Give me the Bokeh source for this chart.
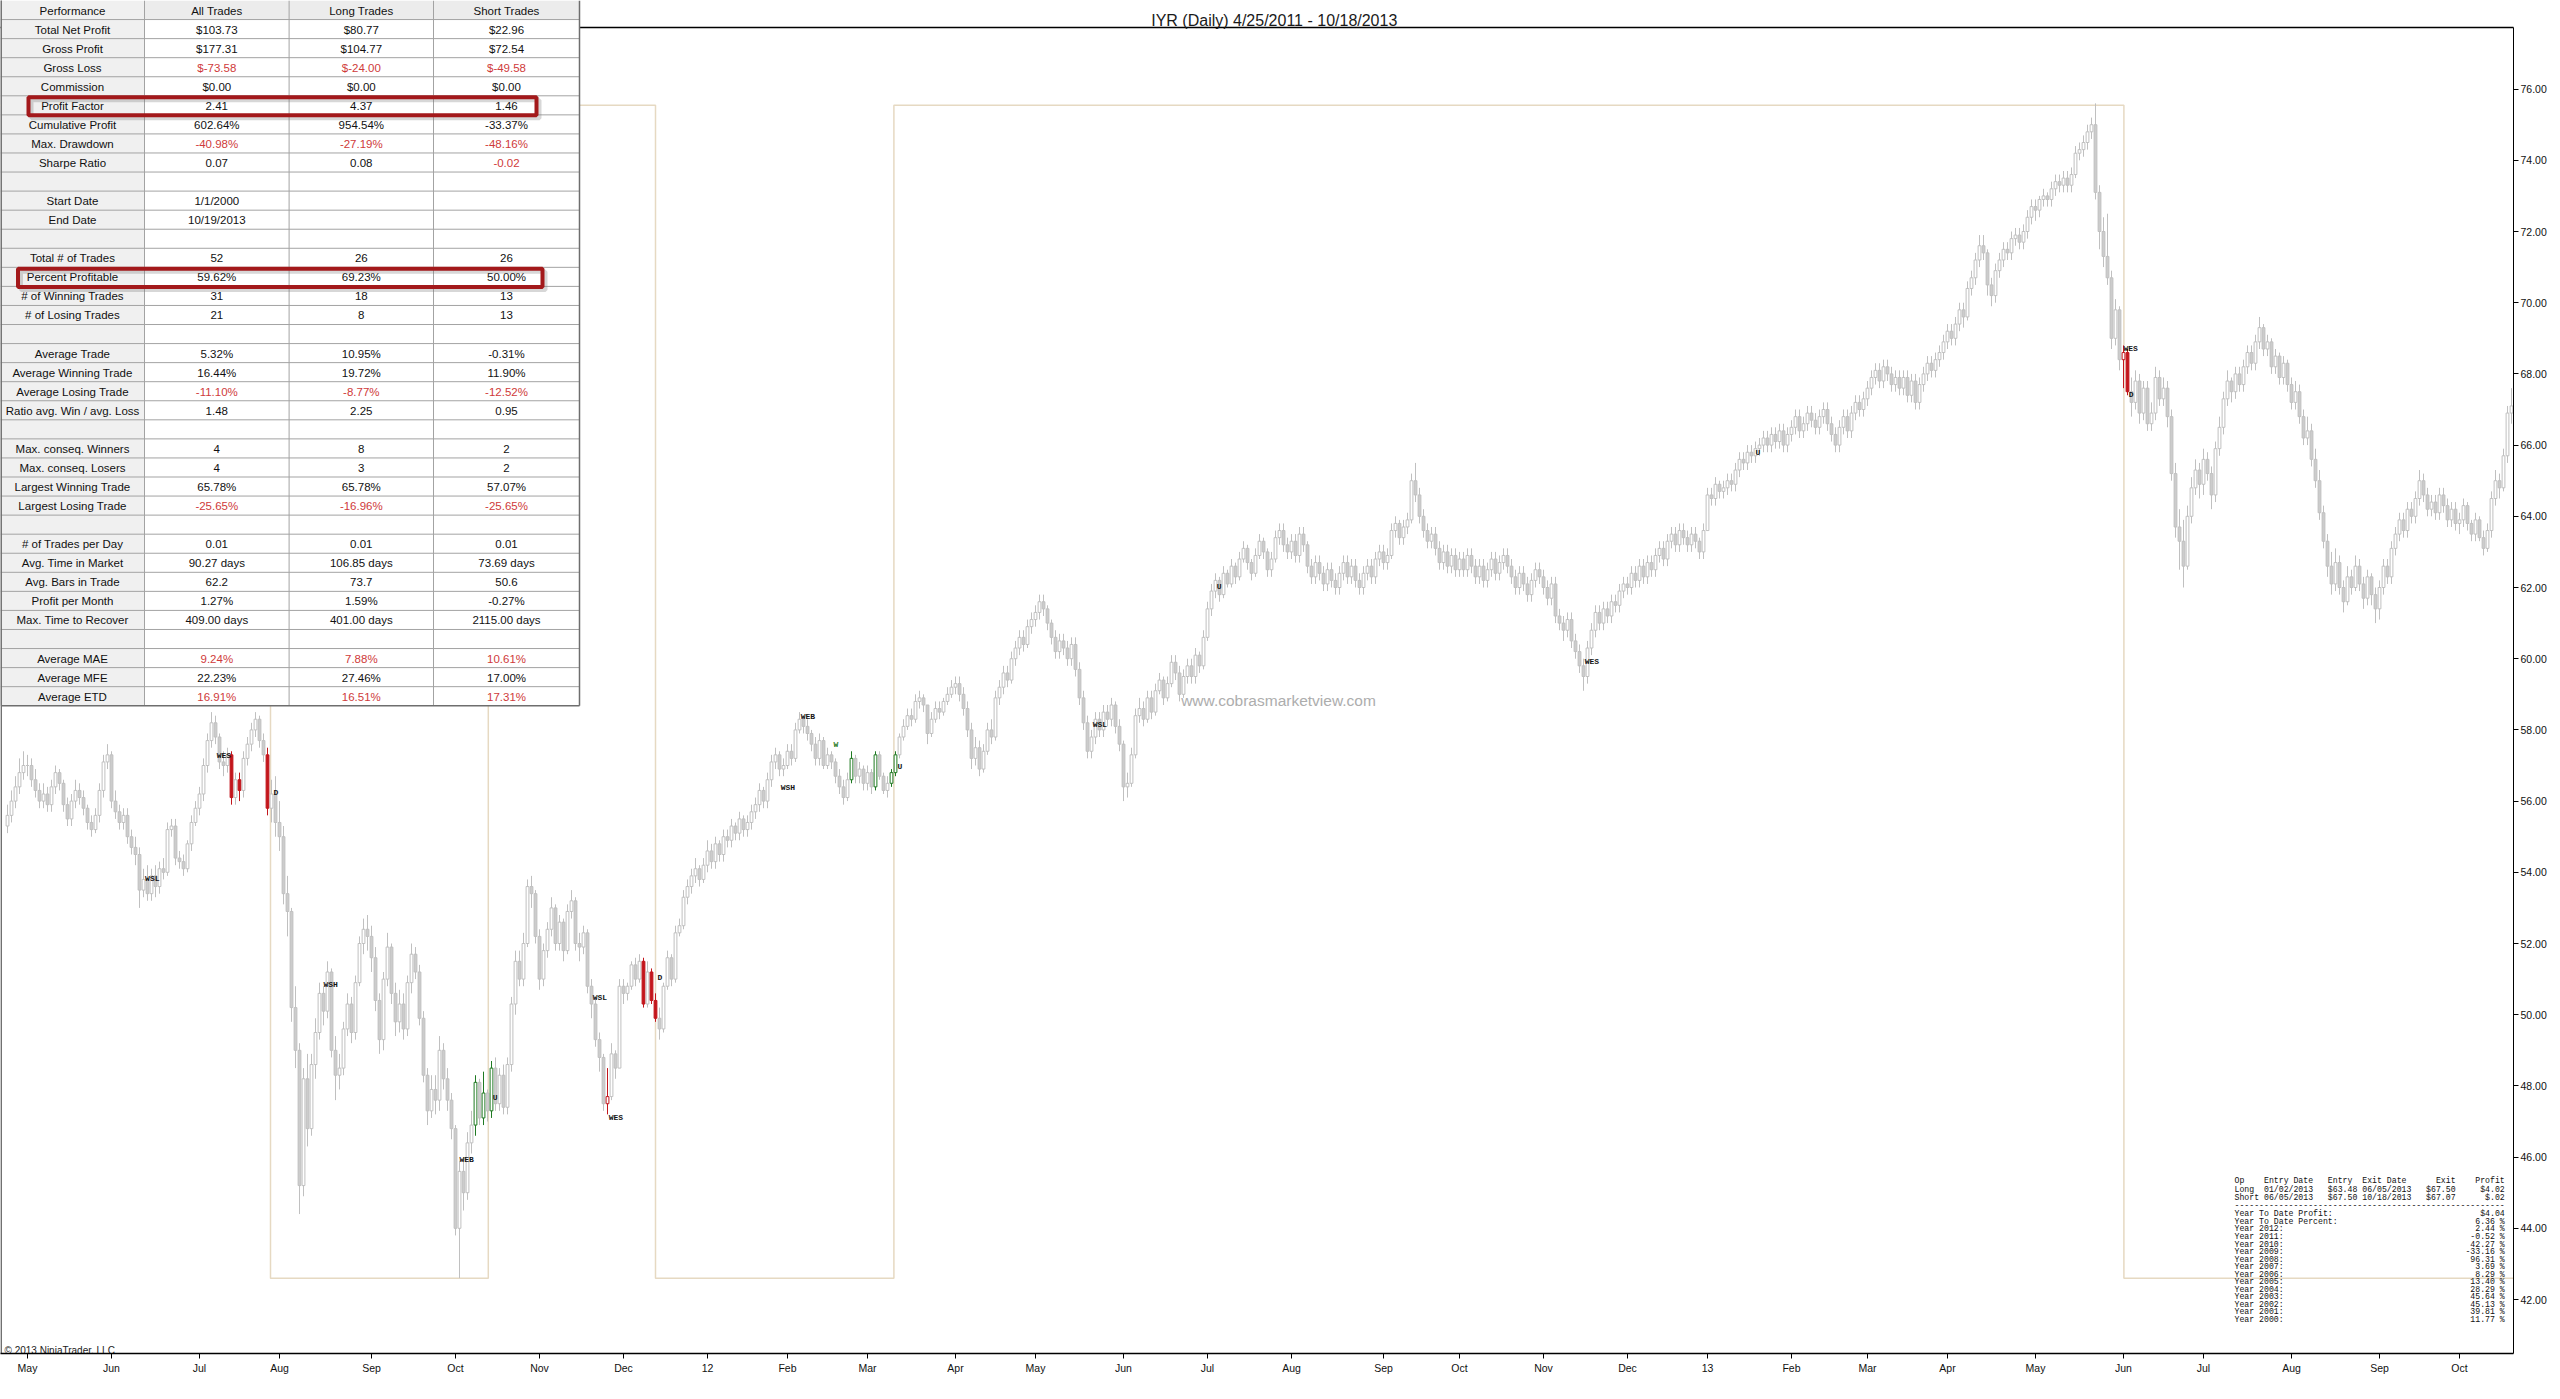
import pandas as pd
from bokeh.plotting import figure
from bokeh.models import ColumnDataSource, Range1d, FixedTicker, NumeralTickFormatter
from bokeh.core.properties import value
from bokeh.embed import file_html
from bokeh.resources import INLINE

# ---------------------------------------------------------------- data
TITLE = "IYR (Daily)  4/25/2011 - 10/18/2013"
first_open = 55.3

close_2011 = [
    55.6, 56.0, 56.4, 56.8, 57.0,
    57.0, 56.6, 56.3, 56.0, 56.2, 55.9, 56.4, 56.8, 56.5, 55.9, 55.5, 56.0, 56.3, 56.1, 55.8, 55.4, 55.2, 55.6, 56.3, 57.1, 57.3,
    56.0, 55.7, 55.4, 55.6, 55.0, 54.7, 54.5, 53.5, 53.8, 53.4, 53.9, 53.6, 54.1, 54.0, 55.2, 55.3, 54.4, 54.3, 54.1, 54.8, 55.4, 55.8,
    56.2, 57.0, 57.7, 58.2, 57.8, 57.1, 57.0, 57.3, 56.1, 56.6, 56.3, 57.2, 57.6, 58.0, 58.3, 57.7, 57.3, 55.8, 56.2, 55.4,
    55.0, 53.4, 52.9, 50.2, 49.0, 45.2, 48.2, 46.8, 48.6, 49.5, 50.6, 50.1, 51.2, 49.0, 48.3, 48.5, 49.6, 50.3, 49.5, 50.9, 52.0, 52.4, 52.2,
    51.6, 50.4, 49.3, 51.0, 51.9, 50.6, 49.8, 50.3, 49.6, 50.9, 51.7, 51.2, 49.9, 48.3, 47.3, 47.9, 47.6, 49.0, 48.2, 47.6, 46.8,
    44.0, 45.6, 45.0, 46.4, 46.9, 48.1, 47.1, 47.8, 47.3, 48.5, 47.5, 48.3, 47.4, 48.6, 50.3, 51.5, 51.0, 52.0, 53.6, 53.4, 52.2,
    51.0, 51.8, 52.4, 53.0, 52.0, 52.6, 51.8, 52.9, 53.2, 52.0, 51.9, 52.3, 50.8, 50.3, 49.3, 48.8, 47.5, 47.7, 48.9, 48.5, 50.8,
    50.6, 50.8, 51.4, 51.0, 51.5, 50.3, 51.2, 50.4, 49.9, 49.6, 50.8, 51.6, 51.0, 52.3, 52.5, 53.3, 53.6, 53.9, 54.1, 53.8, 54.2,
]
high_2011 = [
    55.9, 56.3, 56.7, 57.2, 57.4,
    57.3, 57.2, 56.9, 56.5, 56.5, 56.4, 56.6, 57.0, 56.9, 56.6, 56.1, 56.2, 56.6, 56.5, 56.3, 55.9, 55.6, 55.8, 56.5, 57.3, 57.6,
    57.4, 56.3, 55.9, 55.8, 55.8, 55.2, 55.0, 54.7, 54.1, 54.2, 54.1, 54.2, 54.3, 54.4, 55.4, 55.5, 55.5, 54.6, 54.5, 54.9, 55.6, 56.0,
    56.4, 57.2, 57.9, 58.5, 58.4, 57.9, 57.4, 57.5, 57.4, 56.8, 56.8, 57.4, 57.8, 58.2, 58.5, 58.4, 57.9, 57.5, 56.6, 56.7,
    56.0, 55.3, 53.9, 53.0, 50.8, 49.2, 48.5, 48.9, 48.9, 49.9, 50.9, 50.8, 51.5, 51.3, 49.4, 48.9, 49.8, 50.6, 50.5, 51.1, 52.2, 52.7, 52.8,
    52.5, 51.9, 50.6, 51.2, 52.3, 52.0, 50.9, 50.7, 50.6, 51.1, 52.0, 51.9, 51.4, 50.1, 48.5, 48.3, 48.3, 49.4, 49.2, 48.5, 47.8,
    46.9, 45.9, 46.0, 46.7, 47.3, 48.3, 48.2, 48.4, 47.9, 48.7, 48.8, 48.5, 48.6, 48.8, 50.5, 51.8, 51.8, 52.3, 53.8, 53.9, 53.5,
    52.4, 52.0, 52.6, 53.3, 53.1, 52.8, 52.7, 53.1, 53.5, 53.3, 52.3, 52.5, 52.4, 51.0, 50.5, 49.5, 48.9, 48.5, 49.2, 49.0, 51.0,
    51.0, 50.9, 51.5, 51.6, 51.7, 51.6, 51.5, 51.3, 50.6, 50.2, 50.9, 51.8, 51.7, 52.5, 52.7, 53.5, 53.8, 54.1, 54.4, 54.2, 54.4,
]
low_2011 = [
    55.1, 55.4, 55.8, 56.2, 56.6,
    56.7, 56.4, 56.1, 55.8, 55.8, 55.7, 55.7, 56.2, 56.3, 55.7, 55.3, 55.3, 55.8, 55.9, 55.6, 55.2, 55.0, 55.1, 55.4, 56.1, 56.9,
    55.8, 55.5, 55.2, 55.2, 54.8, 54.5, 54.2, 53.0, 53.3, 53.2, 53.2, 53.3, 53.4, 53.8, 53.9, 55.0, 54.2, 54.1, 53.9, 54.0, 54.6, 55.3,
    55.6, 56.0, 56.8, 57.5, 57.6, 56.9, 56.7, 56.8, 55.9, 55.9, 56.0, 56.1, 57.0, 57.4, 57.8, 57.5, 57.1, 55.6, 55.4, 55.0,
    54.6, 53.1, 52.2, 49.8, 48.5, 44.4, 44.9, 46.3, 46.6, 48.2, 49.3, 49.7, 49.9, 48.8, 47.6, 47.9, 48.3, 49.4, 49.2, 49.3, 50.8, 51.7, 51.8,
    51.2, 50.1, 48.9, 49.0, 50.8, 50.3, 49.4, 49.5, 49.3, 49.4, 50.6, 51.0, 49.7, 48.1, 46.9, 47.1, 47.2, 47.3, 47.9, 47.3, 46.5,
    43.8, 42.6, 44.5, 44.8, 46.1, 46.6, 46.9, 46.9, 47.0, 47.1, 47.3, 47.3, 47.2, 47.2, 48.4, 50.0, 50.8, 50.8, 51.9, 53.0, 52.0,
    50.7, 50.8, 51.6, 52.2, 51.8, 51.8, 51.5, 51.7, 52.7, 51.8, 51.5, 51.7, 50.6, 49.9, 49.1, 48.4, 47.3, 47.2, 47.6, 48.2, 49.8,
    50.3, 50.4, 50.7, 50.8, 50.9, 50.2, 50.2, 50.3, 49.8, 49.3, 49.5, 50.7, 50.8, 50.9, 52.2, 52.4, 53.1, 53.4, 53.7, 53.6, 53.7,
]

close_2012 = [
    54.6, 54.3, 54.8, 54.5, 55.0, 54.9, 55.3, 55.1, 55.5, 55.2, 55.4, 55.7, 55.9, 56.3, 56.0, 56.6, 57.1, 57.3, 56.9, 57.0,
    57.4, 57.2, 58.0, 58.3, 58.1, 57.9, 57.6, 57.2, 57.7, 57.0, 57.3, 57.1, 56.7, 56.4, 56.1, 56.6, 57.2, 56.7, 56.9, 56.5,
    56.8, 56.4, 57.3, 56.7, 56.3, 56.5, 56.8, 57.3, 57.8, 58.1, 58.4, 58.3, 58.8, 58.9, 58.7, 57.9, 58.3, 58.6, 58.5, 58.8, 59.0, 59.2,
    59.3, 59.0, 58.6, 58.0, 57.2, 57.5, 56.9, 57.4, 58.0, 57.8, 58.9, 59.2, 59.6, 59.4, 60.0, 60.3, 60.6, 60.4, 60.9, 61.1,
    61.3, 61.6, 61.4, 61.0, 60.6, 60.2, 60.5, 60.3, 60.0, 60.4, 59.7, 58.9, 58.2, 57.4, 57.8, 58.3, 58.0, 58.5, 58.3, 58.7, 58.1, 57.6,
    56.4, 56.5, 57.3, 58.4, 58.6, 58.3, 58.9, 58.5, 59.1, 59.4, 58.9, 59.3, 59.9, 59.6, 59.0, 59.5, 59.8, 59.5, 60.1, 59.8, 60.6,
    61.4, 61.9, 62.2, 61.8, 62.4, 62.1, 62.6, 62.3, 62.8, 63.1, 62.7, 62.4, 62.9, 63.3, 63.0, 62.5, 62.8, 63.4, 63.6, 63.2, 63.0,
    63.3, 62.9, 63.5, 63.2, 62.6, 62.3, 62.7, 62.4, 62.1, 62.5, 62.2, 62.0, 62.4, 62.7, 62.3, 62.6, 62.2, 62.0, 62.4, 62.6, 62.3, 62.8, 63.0,
    62.7, 62.9, 63.6, 63.8, 63.4, 63.7, 63.9, 65.0, 64.6, 64.0, 63.6, 63.3, 63.5, 63.1, 62.7, 63.0, 62.6, 62.9, 62.5,
    62.8, 62.5, 62.9, 62.6, 62.3, 62.6, 62.2, 62.5, 62.8, 62.4, 62.7, 62.9, 62.6, 62.3, 62.0, 62.4, 62.1, 61.8, 62.2, 62.5, 62.3,
    62.0, 61.7, 62.1, 61.2, 61.0, 60.8, 61.1, 60.5, 60.2, 59.8, 59.5, 60.3, 60.8, 61.3, 61.0, 61.4, 61.2, 61.6, 61.5, 61.9, 62.1,
    62.0, 62.4, 62.2, 62.6, 62.3, 62.7, 62.5, 62.9, 63.1, 62.8, 63.3, 63.5, 63.2, 63.6, 63.4, 63.2, 63.5, 63.3, 63.0, 63.6,
]
high_2012 = [
    54.9, 54.8, 55.0, 54.9, 55.2, 55.2, 55.5, 55.4, 55.7, 55.6, 55.6, 55.9, 56.1, 56.5, 56.4, 56.8, 57.3, 57.5, 57.4, 57.2,
    57.6, 57.6, 58.2, 58.5, 58.4, 58.3, 58.0, 57.8, 57.9, 57.8, 57.5, 57.4, 57.2, 56.9, 56.6, 56.8, 57.4, 57.3, 57.1, 57.0,
    57.0, 56.9, 57.4, 57.4, 56.8, 56.7, 56.9, 57.4, 57.9, 58.3, 58.6, 58.6, 59.0, 59.1, 59.0, 58.7, 58.5, 58.8, 58.8, 58.9, 59.2, 59.4,
    59.5, 59.5, 59.2, 58.8, 58.2, 57.8, 57.7, 57.6, 58.2, 58.3, 59.1, 59.4, 59.8, 59.8, 60.2, 60.5, 60.8, 60.8, 61.1, 61.3,
    61.5, 61.8, 61.8, 61.5, 61.1, 60.8, 60.7, 60.7, 60.5, 60.6, 60.6, 59.9, 59.1, 58.4, 58.0, 58.5, 58.5, 58.7, 58.7, 58.9, 58.8, 58.3,
    57.7, 56.8, 57.5, 58.6, 58.9, 58.8, 59.1, 59.1, 59.3, 59.6, 59.5, 59.5, 60.1, 60.1, 59.8, 59.7, 60.0, 60.0, 60.3, 60.2, 60.8,
    61.6, 62.1, 62.4, 62.3, 62.6, 62.5, 62.8, 62.7, 63.0, 63.3, 63.2, 62.8, 63.1, 63.5, 63.4, 63.1, 63.0, 63.6, 63.8, 63.8, 63.4,
    63.5, 63.5, 63.7, 63.7, 63.3, 62.8, 62.9, 62.9, 62.6, 62.7, 62.7, 62.4, 62.6, 62.9, 62.9, 62.8, 62.8, 62.4, 62.6, 62.8, 62.8, 63.0, 63.2,
    63.2, 63.1, 63.8, 64.0, 63.9, 63.9, 64.1, 65.2, 65.5, 64.8, 64.2, 63.8, 63.7, 63.7, 63.3, 63.2, 63.2, 63.1, 63.1,
    63.0, 63.0, 63.1, 63.1, 62.8, 62.8, 62.8, 62.7, 63.0, 63.0, 62.9, 63.1, 63.1, 62.8, 62.5, 62.6, 62.6, 62.3, 62.4, 62.7, 62.7,
    62.5, 62.2, 62.3, 62.3, 61.4, 61.2, 61.3, 61.3, 60.7, 60.4, 60.0, 60.5, 61.0, 61.5, 61.5, 61.6, 61.6, 61.8, 61.8, 62.1, 62.3,
    62.3, 62.6, 62.6, 62.8, 62.8, 62.9, 62.9, 63.1, 63.3, 63.3, 63.5, 63.7, 63.7, 63.8, 63.8, 63.6, 63.7, 63.7, 63.4, 63.8,
]
low_2012 = [
    54.0, 54.1, 54.1, 54.3, 54.3, 54.7, 54.7, 54.9, 54.9, 55.0, 55.0, 55.2, 55.5, 55.7, 55.8, 55.8, 56.4, 56.9, 56.7, 56.7,
    56.9, 57.0, 57.1, 57.9, 57.9, 57.7, 57.4, 57.0, 57.0, 56.9, 56.9, 56.9, 56.5, 56.2, 55.9, 56.0, 56.5, 56.5, 56.5, 56.3,
    56.3, 56.2, 56.3, 56.6, 56.2, 56.1, 56.4, 56.7, 57.2, 57.7, 58.0, 58.1, 58.2, 58.6, 58.5, 57.6, 57.8, 58.2, 58.3, 58.4, 58.7, 58.9,
    59.0, 58.8, 58.4, 57.8, 56.9, 57.0, 56.7, 56.8, 57.3, 57.6, 57.7, 58.7, 59.0, 59.2, 59.3, 59.8, 60.1, 60.2, 60.3, 60.7,
    60.9, 61.1, 61.2, 60.8, 60.4, 60.0, 60.0, 60.1, 59.8, 59.8, 59.5, 58.7, 58.0, 57.2, 57.2, 57.6, 57.8, 57.8, 58.1, 58.1, 57.9, 57.4,
    56.0, 56.1, 56.4, 57.2, 58.2, 58.1, 58.2, 58.3, 58.4, 59.0, 58.7, 58.8, 59.2, 59.4, 58.8, 58.9, 59.3, 59.3, 59.3, 59.6, 59.7,
    60.5, 61.2, 61.7, 61.6, 61.7, 62.0, 62.0, 62.1, 62.2, 62.7, 62.5, 62.2, 62.3, 62.8, 62.8, 62.3, 62.3, 62.7, 63.2, 63.0, 62.8,
    62.8, 62.7, 62.7, 63.0, 62.4, 62.1, 62.1, 62.2, 61.9, 61.9, 62.0, 61.8, 61.8, 62.2, 62.1, 62.1, 62.0, 61.8, 61.8, 62.2, 62.1, 62.1, 62.6,
    62.5, 62.5, 62.8, 63.4, 63.2, 63.2, 63.5, 63.8, 64.4, 63.8, 63.4, 63.1, 63.1, 62.9, 62.5, 62.5, 62.4, 62.4, 62.3,
    62.3, 62.3, 62.3, 62.4, 62.1, 62.1, 62.0, 62.0, 62.3, 62.2, 62.2, 62.5, 62.4, 62.1, 61.8, 61.8, 61.9, 61.6, 61.6, 62.0, 62.1,
    61.8, 61.5, 61.5, 61.0, 60.8, 60.5, 60.6, 60.3, 60.0, 59.6, 59.1, 59.3, 60.1, 60.6, 60.8, 60.8, 61.0, 61.0, 61.3, 61.3, 61.7,
    61.8, 61.8, 62.0, 62.0, 62.1, 62.1, 62.3, 62.3, 62.7, 62.6, 62.6, 63.1, 63.0, 63.0, 63.2, 63.0, 63.0, 63.1, 62.8, 62.8,
]

close_2013 = [
    64.6, 64.5, 64.9, 64.7, 64.8, 65.0, 64.9, 65.3, 65.6, 65.5, 65.8, 65.7, 65.9, 66.0, 66.2, 66.0, 66.3, 66.1, 66.4, 66.0, 66.3,
    66.5, 66.8, 66.4, 66.6, 66.9, 66.7, 66.5, 66.8, 67.0, 66.6, 66.3, 66.0, 66.5, 66.8, 66.4, 66.9, 67.2, 67.0, 67.3,
    67.6, 67.9, 68.1, 67.8, 68.2, 68.0, 67.7, 67.9, 67.6, 67.9, 67.4, 67.8, 67.2, 67.7, 68.0, 68.3, 68.1, 68.4, 68.6, 68.9,
    69.2, 69.0, 69.4, 69.8, 69.6, 70.4, 70.7, 71.2, 71.6, 71.4, 70.5, 70.2, 70.9, 71.2, 71.5, 71.4, 71.8, 71.9, 71.7, 72.0, 72.4, 72.7,
    72.6, 72.9, 73.0, 72.9, 73.2, 73.4, 73.3, 73.5, 73.3, 73.6, 74.2, 74.3, 74.5, 74.8, 75.0, 73.1, 72.0, 71.3, 70.7, 69.0, 69.8, 68.4,
    68.6, 67.5, 67.2, 67.8, 66.9, 67.6, 66.6, 66.9, 67.9, 67.3, 67.6, 66.8, 65.2, 63.7, 63.3, 62.6, 64.0, 64.8, 65.3, 64.9,
    65.6, 65.2, 64.6, 65.9, 66.5, 67.3, 67.8, 67.5, 68.0, 67.7, 68.2, 68.6, 68.3, 68.9, 69.3, 68.7, 68.9, 68.2, 68.5, 67.9, 68.3, 67.7,
    67.2, 67.5, 66.8, 66.2, 66.4, 65.6, 65.0, 64.1, 63.3, 62.6, 62.1, 62.7, 62.0, 61.6, 62.3, 62.0, 62.6, 62.1, 61.7, 62.3, 61.8, 61.4,
    62.0, 62.6, 62.3, 63.1, 63.5, 63.9, 63.6, 64.2, 64.0, 64.5, 65.0, 64.6, 64.2, 64.4, 64.1, 64.6, 64.3, 63.9, 64.2, 63.8,
    63.9, 64.3, 63.8, 63.5, 63.9, 63.4, 63.1, 63.6, 64.5, 65.0, 64.8, 65.7, 66.9, 67.1,
]
high_2013 = [
    64.8, 64.8, 65.1, 65.0, 65.0, 65.2, 65.2, 65.5, 65.8, 65.8, 66.0, 66.0, 66.1, 66.2, 66.4, 66.4, 66.5, 66.5, 66.6, 66.6, 66.5,
    66.7, 67.0, 67.0, 66.8, 67.1, 67.1, 66.9, 67.0, 67.2, 67.2, 66.8, 66.5, 66.7, 67.0, 67.0, 67.1, 67.4, 67.4, 67.5,
    67.8, 68.1, 68.3, 68.3, 68.4, 68.4, 68.2, 68.1, 68.1, 68.1, 68.1, 68.0, 68.0, 67.9, 68.2, 68.5, 68.5, 68.6, 68.8, 69.1,
    69.4, 69.4, 69.6, 70.0, 70.0, 70.6, 70.9, 71.4, 71.9, 71.9, 71.5, 70.7, 71.1, 71.4, 71.7, 71.7, 72.0, 72.1, 72.1, 72.2, 72.6, 72.9,
    72.9, 73.0, 73.2, 73.1, 73.4, 73.6, 73.6, 73.7, 73.7, 73.8, 74.4, 74.5, 74.7, 75.0, 75.2, 75.6, 73.3, 72.4, 72.5, 70.9, 70.1, 69.9,
    68.8, 68.7, 67.9, 68.1, 68.0, 67.8, 67.8, 67.2, 68.2, 68.1, 67.9, 67.8, 67.0, 65.5, 64.2, 63.9, 64.3, 65.1, 65.6, 65.5,
    65.9, 65.8, 65.4, 66.1, 66.8, 67.5, 68.1, 67.9, 68.2, 68.2, 68.4, 68.8, 68.8, 69.1, 69.6, 69.4, 69.1, 69.0, 68.7, 68.6, 68.5, 68.4,
    67.9, 67.8, 67.7, 67.0, 66.8, 66.6, 65.9, 65.3, 64.3, 63.5, 63.0, 63.1, 62.9, 62.2, 62.6, 62.5, 62.9, 62.8, 62.3, 62.5, 62.4, 62.0,
    62.2, 62.8, 62.8, 63.3, 63.7, 64.1, 64.1, 64.4, 64.4, 64.7, 65.3, 65.2, 64.8, 64.6, 64.6, 64.8, 64.8, 64.5, 64.4, 64.4,
    64.1, 64.5, 64.4, 63.9, 64.1, 64.0, 63.6, 63.8, 64.7, 65.3, 65.2, 65.9, 67.1, 67.6,
]
low_2013 = [
    63.6, 64.3, 64.3, 64.5, 64.5, 64.6, 64.7, 64.7, 65.1, 65.3, 65.3, 65.5, 65.5, 65.7, 65.8, 65.8, 65.8, 65.9, 65.9, 65.8, 65.8,
    66.1, 66.3, 66.2, 66.2, 66.4, 66.5, 66.3, 66.3, 66.6, 66.4, 66.1, 65.8, 65.8, 66.3, 66.2, 66.2, 66.7, 66.8, 66.8,
    67.1, 67.4, 67.7, 67.6, 67.6, 67.8, 67.5, 67.5, 67.4, 67.4, 67.2, 67.2, 67.0, 67.0, 67.5, 67.8, 67.9, 67.9, 68.2, 68.4,
    68.7, 68.8, 68.8, 69.2, 69.3, 69.5, 70.2, 70.5, 71.0, 71.2, 70.2, 69.9, 70.0, 70.7, 71.0, 71.2, 71.2, 71.6, 71.5, 71.5, 71.8, 72.2,
    72.3, 72.4, 72.7, 72.7, 72.7, 73.0, 73.1, 73.1, 73.1, 73.1, 73.5, 74.0, 74.1, 74.3, 74.6, 72.9, 71.5, 71.0, 70.5, 68.7, 68.8, 68.1,
    67.6, 67.4, 66.8, 67.0, 66.6, 66.7, 66.4, 66.4, 66.7, 67.1, 67.1, 66.5, 65.0, 63.4, 62.5, 62.0, 62.5, 63.8, 64.6, 64.5,
    64.6, 65.0, 64.2, 64.4, 65.7, 66.3, 67.1, 67.2, 67.3, 67.5, 67.5, 68.0, 68.1, 68.1, 68.7, 68.5, 68.5, 68.0, 68.0, 67.7, 67.7, 67.5,
    67.0, 67.0, 66.6, 66.0, 66.0, 65.4, 64.8, 63.9, 63.1, 62.3, 61.8, 61.9, 61.8, 61.3, 61.5, 61.8, 61.9, 61.9, 61.4, 61.5, 61.5, 61.0,
    61.1, 61.8, 62.1, 62.1, 62.9, 63.3, 63.4, 63.4, 63.8, 63.8, 64.3, 64.4, 64.0, 64.0, 63.9, 63.9, 64.1, 63.7, 63.7, 63.6,
    63.5, 63.7, 63.6, 63.3, 63.3, 63.3, 62.9, 63.0, 63.4, 64.3, 64.5, 64.7, 65.5, 66.6,
]

market_holidays = [
    "2011-05-30", "2011-07-04", "2011-09-05", "2011-11-24", "2011-12-26",
    "2012-01-02", "2012-01-16", "2012-02-20", "2012-04-06", "2012-05-28", "2012-07-04",
    "2012-09-03", "2012-10-29", "2012-10-30", "2012-11-22", "2012-12-25",
    "2013-01-01", "2013-01-21", "2013-02-18", "2013-03-29", "2013-05-27", "2013-07-04", "2013-09-02",
]

# trades: bars drawn in the signal colours, position step line, signal labels
red_bars = [56, 58, 65, 150, 159, 161, 162, 529, 530]
green_bars = [117, 119, 121, 211, 217, 221, 222]
position_change_bar = [65.75, 120.2, 162.0, 221.6, 529.1]
position_level = [75.55, 42.6, 75.55, 42.6, 75.55, 42.6]

signal_text = ["WSL", "WES", "D", "WSH", "WEB", "U", "WSL", "WES", "D", "WSH", "WEB", "W", "U",
               "WSL", "U", "WES", "U", "WES", "D"]
signal_bar = [34.4, 52.3, 66.5, 79.0, 113.0, 121.3, 146.3, 150.3, 162.5, 193.3, 198.3, 206.5, 222.5,
              271.3, 302.3, 394.3, 437.0, 529.0, 530.3]
signal_price = [53.83, 57.28, 56.24, 50.86, 45.93, 47.67, 50.48, 47.10, 51.04, 56.38, 58.37, 57.59, 56.97,
                58.15, 62.03, 59.92, 65.79, 68.71, 67.42]

# performance table
perf_header = ["Performance", "All Trades", "Long Trades", "Short Trades"]
perf_labels = ["Total Net Profit", "Gross Profit", "Gross Loss", "Commission", "Profit Factor",
               "Cumulative Profit", "Max. Drawdown", "Sharpe Ratio", "", "Start Date", "End Date", "",
               "Total # of Trades", "Percent Profitable", "# of Winning Trades", "# of Losing Trades", "",
               "Average Trade", "Average Winning Trade", "Average Losing Trade", "Ratio avg. Win / avg. Loss", "",
               "Max. conseq. Winners", "Max. conseq. Losers", "Largest Winning Trade", "Largest Losing Trade", "",
               "# of Trades per Day", "Avg. Time in Market", "Avg. Bars in Trade", "Profit per Month",
               "Max. Time to Recover", "", "Average MAE", "Average MFE", "Average ETD"]
perf_all = ["$103.73", "$177.31", "$-73.58", "$0.00", "2.41", "602.64%", "-40.98%", "0.07", "",
            "1/1/2000", "10/19/2013", "", "52", "59.62%", "31", "21", "", "5.32%", "16.44%", "-11.10%", "1.48", "",
            "4", "4", "65.78%", "-25.65%", "", "0.01", "90.27 days", "62.2", "1.27%", "409.00 days", "",
            "9.24%", "22.23%", "16.91%"]
perf_long = ["$80.77", "$104.77", "$-24.00", "$0.00", "4.37", "954.54%", "-27.19%", "0.08", "",
             "", "", "", "26", "69.23%", "18", "8", "", "10.95%", "19.72%", "-8.77%", "2.25", "",
             "8", "3", "65.78%", "-16.96%", "", "0.01", "106.85 days", "73.7", "1.59%", "401.00 days", "",
             "7.88%", "27.46%", "16.51%"]
perf_short = ["$22.96", "$72.54", "$-49.58", "$0.00", "1.46", "-33.37%", "-48.16%", "-0.02", "",
              "", "", "", "26", "50.00%", "13", "13", "", "-0.31%", "11.90%", "-12.52%", "0.95", "",
              "2", "2", "57.07%", "-25.65%", "", "0.01", "73.69 days", "50.6", "-0.27%", "2115.00 days", "",
              "10.61%", "17.00%", "17.31%"]
red_rows = ["Gross Loss", "Max. Drawdown", "Average Losing Trade", "Largest Losing Trade", "Average MAE", "Average ETD"]
highlight_rows = ["Profit Factor", "Percent Profitable"]

# trade report
report_trades = [("Long", "01/02/2013", "$63.48", "06/05/2013", "$67.50", "$4.02"),
                 ("Short", "06/05/2013", "$67.50", "10/18/2013", "$67.07", "$.02")]
report_totals = [("Year To Date Profit:", "$4.04"), ("Year To Date Percent:", "6.36 %")]
report_years = ["2012", "2011", "2010", "2009", "2008", "2007", "2006", "2005", "2004", "2003", "2002", "2001", "2000"]
report_year_pct = ["2.44 %", "-0.52 %", "42.27 %", "-33.16 %", "96.31 %", "3.69 %", "8.29 %", "13.40 %",
                   "28.29 %", "45.64 %", "45.13 %", "39.81 %", "11.77 %"]

WATERMARK = "www.cobrasmarketview.com"
COPYRIGHT = "\u00a9 2013 NinjaTrader, LLC"

# ---------------------------------------------------------------- layout (pixel geometry of the canvas)
FRAME_W, FRAME_H = 2513, 1353
X_START, PX_PER_BAR = -1.75, 4.0
Y_TOP, PX_PER_UNIT = 78.489, 35.6
X_END = X_START + FRAME_W / PX_PER_BAR
Y_BOT = Y_TOP - FRAME_H / PX_PER_UNIT


def DX(px):
    return X_START + px / PX_PER_BAR


def DY(py):
    return Y_TOP - py / PX_PER_UNIT


days = pd.bdate_range("2011-04-25", "2013-10-18")
days = days[~days.isin(pd.to_datetime(market_holidays))]

closes = close_2011 + close_2012 + close_2013
highs = high_2011 + high_2012 + high_2013
lows = low_2011 + low_2012 + low_2013
n = min(len(closes), len(highs), len(lows), len(days))
closes, highs, lows = closes[:n], highs[:n], lows[:n]
opens = [first_open] + closes[:-1]

GRAY_LINE, GRAY_FILL = "#c0c0c0", "#cccccc"
RED, GREEN = "#c3161c", "#1f7a22"
cd = dict(x=[], top=[], bot=[], hi=[], lo=[], lc=[], fc=[])
for i in range(n):
    o, c = opens[i], closes[i]
    up = c >= o
    if i in red_bars:
        lc = RED
        fc = "white" if up else RED
    elif i in green_bars:
        lc = GREEN
        fc = "white" if up else GREEN
    else:
        lc = GRAY_LINE
        fc = "white" if up else GRAY_FILL
    cd["x"].append(i)
    cd["top"].append(max(o, c))
    cd["bot"].append(min(o, c))
    cd["hi"].append(max(highs[i], o, c))
    cd["lo"].append(min(lows[i], o, c))
    cd["lc"].append(lc)
    cd["fc"].append(fc)
src = ColumnDataSource(cd)

ticks, tick_labels = [], {}
prev = None
for i, d in enumerate(days[:n]):
    key = (d.year, d.month)
    if key != prev:
        prev = key
        if i == 0:
            continue
        ticks.append(i)
        tick_labels[i] = d.strftime("%y") if d.month == 1 else d.strftime("%b")

p = figure(frame_width=FRAME_W, frame_height=FRAME_H,
           x_range=Range1d(X_START, X_END), y_range=Range1d(Y_BOT, Y_TOP),
           y_axis_location="right", output_backend="svg", toolbar_location=None,
           min_border_left=0, min_border_top=0, min_border_right=35, min_border_bottom=32,
           outline_line_color=None, background_fill_color="white", border_fill_color="white")
p.xgrid.visible = False
p.ygrid.visible = False

ya = p.yaxis[0]
ya.ticker = FixedTicker(ticks=[42 + 2 * k for k in range(18)])
ya.formatter = NumeralTickFormatter(format="0.00")
ya.bounds = (Y_BOT, DY(27))
ya.axis_line_color = "black"
ya.major_tick_line_color = "black"
ya.major_tick_out = 5
ya.major_tick_in = 0
ya.minor_tick_out = 0
ya.minor_tick_in = 0
ya.major_label_standoff = 2
ya.major_label_text_font = "Liberation Sans"
ya.major_label_text_font_size = "10.5px"
ya.major_label_text_color = "#111111"

xa = p.xaxis[0]
xa.ticker = FixedTicker(ticks=ticks)
xa.major_label_overrides = tick_labels
xa.axis_line_color = "black"
xa.axis_line_width = 1.5
xa.major_tick_line_color = "black"
xa.major_tick_out = 5
xa.major_tick_in = 0
xa.minor_tick_out = 0
xa.minor_tick_in = 0
xa.major_label_standoff = 3
xa.major_label_text_font = "Liberation Sans"
xa.major_label_text_font_size = "10.5px"
xa.major_label_text_color = "#111111"

# panel rules: top rule under the title and the left edge of the picture
p.segment(x0=[X_START - 2, DX(0.6)], y0=[DY(27), Y_TOP + 1], x1=[X_END + 2, DX(0.6)], y1=[DY(27), Y_BOT - 1],
          line_color=["black", "#333333"], line_width=[1.5, 1.2])

# position step line
step_x = [X_START - 5] + position_change_bar + [X_END + 5]
step_y = position_level + [position_level[-1]]
p.step(x=step_x, y=step_y, mode="after", line_color="#e6d9c2", line_width=1.5)

# candles
p.segment(x0="x", y0="lo", x1="x", y1="hi", line_color="lc", line_width=1, source=src)
p.vbar(x="x", width=0.7, top="top", bottom="bot", fill_color="fc", line_color="lc", line_width=1, source=src)


def add_text(xs, ys, texts, colors, font, size, align="center", baseline="middle", style="normal"):
    s = ColumnDataSource(dict(x=xs, y=ys, text=texts, color=colors))
    p.text(x="x", y="y", text="text", text_color="color", source=s, text_font=value(font),
           text_font_size=size, text_align=align, text_baseline=baseline, text_font_style=style)


# signal labels
add_text(signal_bar, signal_price, signal_text,
         [GREEN if t == "W" else "#151515" for t in signal_text],
         "Liberation Mono", "8px", align="left", style="bold")

# watermark / title / copyright
add_text([DX(1278)], [DY(700)], [WATERMARK], ["#adadad"], "Liberation Sans", "15.5px")
add_text([DX(1276)], [DY(19.5)], [TITLE], ["#1a1a1a"], "Liberation Sans", "16px", baseline="alphabetic")
add_text([DX(4)], [DY(1350)], [COPYRIGHT], ["#222222"], "Liberation Sans", "10px", align="left", baseline="alphabetic")

# ---------------------------------------------------------------- performance table
ROW_H = 19.06
COL_X = [0.0, 144.0, 288.6, 433.0, 579.0]
n_rows = len(perf_labels) + 1
row_top = [ROW_H * k for k in range(n_rows)]
row_bot = [ROW_H * (k + 1) for k in range(n_rows)]
T_BOT = row_bot[-1]

p.quad(left=[DX(COL_X[1])], right=[DX(COL_X[4])], top=[DY(row_bot[0])], bottom=[DY(T_BOT)],
       fill_color="white", line_color=None)
p.quad(left=[DX(COL_X[0])], right=[DX(COL_X[1])], top=[DY(0)], bottom=[DY(T_BOT)],
       fill_color="#f0f0f0", line_color=None)
p.quad(left=[DX(COL_X[1])], right=[DX(COL_X[4])], top=[DY(0)], bottom=[DY(row_bot[0])],
       fill_color="#ececec", line_color=None)

gx0, gy0, gx1, gy1 = [], [], [], []
for k in range(n_rows - 1):
    yb = row_bot[k]
    gx0.append(DX(COL_X[0])); gx1.append(DX(COL_X[4])); gy0.append(DY(yb)); gy1.append(DY(yb))
for cx in COL_X[1:4]:
    gx0.append(DX(cx)); gx1.append(DX(cx)); gy0.append(DY(0)); gy1.append(DY(T_BOT))
p.segment(x0=gx0, y0=gy0, x1=gx1, y1=gy1, line_color="#a3a3a3", line_width=1)
p.segment(x0=[DX(0.7), DX(0.7), DX(COL_X[4])], y0=[DY(T_BOT), DY(0), DY(0)],
          x1=[DX(COL_X[4]), DX(0.7), DX(COL_X[4])], y1=[DY(T_BOT), DY(T_BOT), DY(T_BOT)],
          line_color="#6e6e6e", line_width=1.5)

col_center = [72.0, 216.3, 360.8, 506.0]
tx, ty, tt, tc = [], [], [], []
for j, h in enumerate(perf_header):
    tx.append(DX(col_center[j])); ty.append(DY((row_top[0] + row_bot[0]) / 2 + 0.5)); tt.append(h); tc.append("#111111")
for r, lab in enumerate(perf_labels):
    yc = DY((row_top[r + 1] + row_bot[r + 1]) / 2 + 0.5)
    vals = [lab, perf_all[r], perf_long[r], perf_short[r]]
    for j, v in enumerate(vals):
        if not v:
            continue
        red = j > 0 and (lab in red_rows or (lab == "Sharpe Ratio" and v.startswith("-")))
        tx.append(DX(col_center[j])); ty.append(yc); tt.append(v)
        tc.append("#cf3a3a" if red else "#111111")
add_text(tx, ty, tt, tc, "Liberation Sans", "11.5px")

# red highlight frames
for lab in highlight_rows:
    r = perf_labels.index(lab) + 1
    top, bot = row_top[r] + 1.5, row_bot[r] + 0.5
    if lab == "Profit Factor":
        left, right = 28.0, 536.0
    else:
        left, right = 17.5, 542.0
    p.quad(left=[DX(left + 3)], right=[DX(right + 3)], top=[DY(top + 3)], bottom=[DY(bot + 3)],
           fill_color=None, line_color="#7a7a7a", line_alpha=0.3, line_width=4)
    p.quad(left=[DX(left)], right=[DX(right)], top=[DY(top)], bottom=[DY(bot)],
           fill_color=None, line_color="#a3191b", line_width=4)

# ---------------------------------------------------------------- trade report (bottom right)
lines = []
lines.append(f"{'Op':<6}{'Entry Date':<13}{'Entry':<6} {'Exit Date':<10}{'Exit':>9}{'Profit':>10}")
for op, ed, ep, xd, xp, pr in report_trades:
    lines.append(f"{op:<6}{ed:<13}{ep:<6} {xd:<10}{xp:>9}{pr:>10}")
lines.append("-" * 55)
for lab, v in report_totals:
    lines.append(f"{lab:<45}{v:>10}")
for yr, v in zip(report_years, report_year_pct):
    lines.append(f"{'Year ' + yr + ':':<45}{v:>10}")
lines = [ln.replace(" ", "\u00a0") for ln in lines]
line_y = [1180.0, 1189.0, 1197.0, 1204.5] + [1213.3 + 7.55 * k for k in range(len(lines) - 4)]
add_text([DX(2234)] * len(lines), [DY(v) for v in line_y], lines, ["#111111"] * len(lines),
         "Liberation Mono", "8.2px", align="left")

open("out.html", "w").write(file_html(p, INLINE))
